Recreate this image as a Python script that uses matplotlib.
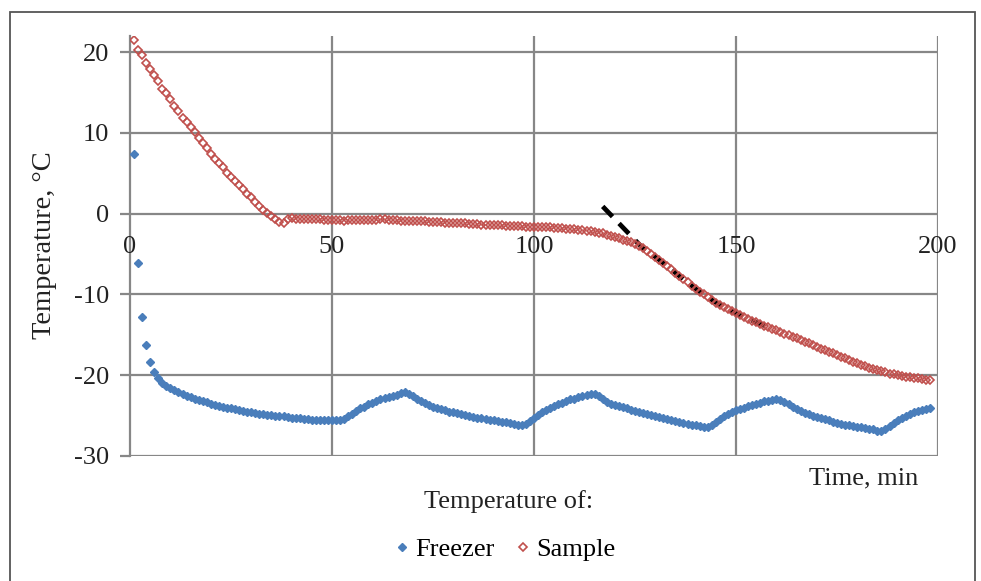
import numpy as np
import matplotlib
matplotlib.use("Agg")
import matplotlib.pyplot as plt
from matplotlib.patches import Rectangle

# time in minutes, one reading per minute
time_min = list(range(1, 199))

freezer_temp = [
    7.4, -6.1, -12.8, -16.3, -18.3, -19.6, -20.3, -20.9, -21.3, -21.6,
    -21.85, -22.1, -22.35, -22.55, -22.75, -22.9, -23.05, -23.2, -23.35, -23.5,
    -23.65, -23.75, -23.9, -24.0, -24.1, -24.2, -24.3, -24.4, -24.5, -24.6,
    -24.65, -24.75, -24.85, -24.9, -24.95, -25.0, -25.05, -25.1, -25.2, -25.25,
    -25.3, -25.35, -25.4, -25.45, -25.5, -25.55, -25.6, -25.6, -25.6, -25.6,
    -25.6, -25.55, -25.4, -25.1, -24.8, -24.4, -24.1, -23.9, -23.6, -23.4,
    -23.2, -23.0, -22.85, -22.7, -22.55, -22.4, -22.25, -22.1, -22.3, -22.6,
    -22.9, -23.2, -23.45, -23.7, -23.9, -24.05, -24.2, -24.35, -24.5, -24.6,
    -24.7, -24.85, -24.95, -25.05, -25.15, -25.25, -25.35, -25.45, -25.5, -25.6,
    -25.65, -25.75, -25.85, -25.95, -26.0, -26.1, -26.15, -26.0, -25.7, -25.3,
    -24.9, -24.6, -24.3, -24.05, -23.8, -23.6, -23.4, -23.2, -23.0, -22.9,
    -22.75, -22.6, -22.45, -22.3, -22.35, -22.6, -23.0, -23.3, -23.5, -23.65,
    -23.8, -23.95, -24.1, -24.25, -24.4, -24.5, -24.65, -24.8, -24.9, -25.05,
    -25.15, -25.3, -25.45, -25.55, -25.7, -25.8, -25.9, -26.0, -26.1, -26.2,
    -26.25, -26.35, -26.4, -26.2, -25.8, -25.4, -25.1, -24.8, -24.5, -24.3,
    -24.15, -24.0, -23.85, -23.7, -23.55, -23.4, -23.25, -23.15, -23.05, -23.0,
    -23.1, -23.3, -23.6, -23.9, -24.2, -24.45, -24.65, -24.85, -25.0, -25.2,
    -25.35, -25.45, -25.6, -25.75, -25.9, -26.0, -26.1, -26.2, -26.3, -26.4,
    -26.45, -26.5, -26.6, -26.7, -26.85, -26.9, -26.7, -26.3, -25.9, -25.6,
    -25.3, -25.0, -24.8, -24.6, -24.45, -24.3, -24.15, -24.0,
]

sample_temp = [
    21.5, 20.3, 19.6, 18.7, 17.9, 17.2, 16.4, 15.5, 15.0, 14.2,
    13.3, 12.7, 11.9, 11.4, 10.7, 10.1, 9.4, 8.7, 8.1, 7.4,
    6.8, 6.3, 5.8, 5.1, 4.6, 4.1, 3.5, 3.0, 2.5, 2.1,
    1.4, 1.0, 0.5, 0.1, -0.3, -0.6, -1.0, -1.2, -0.6, -0.55,
    -0.6, -0.6, -0.65, -0.6, -0.65, -0.7, -0.7, -0.75, -0.75, -0.8,
    -0.8, -0.8, -0.85, -0.8, -0.8, -0.8, -0.75, -0.75, -0.75, -0.75,
    -0.75, -0.7, -0.7, -0.75, -0.8, -0.8, -0.85, -0.85, -0.9, -0.9,
    -0.9, -0.95, -0.95, -1.0, -1.0, -1.05, -1.05, -1.1, -1.1, -1.15,
    -1.15, -1.2, -1.2, -1.25, -1.3, -1.3, -1.35, -1.35, -1.4, -1.4,
    -1.45, -1.45, -1.5, -1.5, -1.5, -1.55, -1.55, -1.6, -1.6, -1.6,
    -1.6, -1.65, -1.65, -1.7, -1.75, -1.75, -1.8, -1.85, -1.9, -1.95,
    -2.0, -2.05, -2.1, -2.15, -2.25, -2.35, -2.45, -2.6, -2.7, -2.85,
    -3.0, -3.2, -3.35, -3.55, -3.8, -4.05, -4.3, -4.6, -4.95, -5.3,
    -5.7, -6.1, -6.5, -6.9, -7.3, -7.7, -8.1, -8.5, -8.9, -9.3,
    -9.65, -10.0, -10.35, -10.7, -11.0, -11.3, -11.6, -11.85, -12.1, -12.35,
    -12.6, -12.8, -13.05, -13.25, -13.45, -13.65, -13.85, -14.05, -14.25, -14.45,
    -14.65, -14.85, -15.05, -15.25, -15.45, -15.65, -15.85, -16.05, -16.25, -16.45,
    -16.7, -16.9, -17.1, -17.3, -17.5, -17.7, -17.9, -18.1, -18.3, -18.5,
    -18.7, -18.85, -19.05, -19.2, -19.35, -19.5, -19.65, -19.8, -19.9, -20.0,
    -20.1, -20.2, -20.25, -20.35, -20.4, -20.5, -20.55, -20.65,
]

# dashed black fit over the cooling stage
fit_time = [117, 127, 130, 135, 140, 145, 150, 155, 159]
fit_temp = [0.9, -4.3, -5.3, -7.3, -9.3, -11.0, -12.35, -13.45, -14.25]

x_ticks = [0, 50, 100, 150, 200]
y_ticks = [-30, -20, -10, 0, 10, 20]

plt.rcParams['font.family'] = ['Liberation Serif', 'DejaVu Serif']
txt_col = '#222222'
fs = 19

W, H = 981, 581
fig = plt.figure(figsize=(W / 100, H / 100), dpi=100)
ax = fig.add_axes([130 / W, 1 - 456 / H, 808 / W, 420 / H])

grid_col = '#878787'
ax.set_xlim(0, 200)
ax.set_ylim(-30, 22)
for xv in x_ticks[1:]:
    ax.axvline(xv, color=grid_col, lw=1.6, zorder=1)
for yv in y_ticks:
    ax.axhline(yv, color=grid_col, lw=1.6, zorder=1)

for side in ['top', 'right', 'bottom']:
    ax.spines[side].set_visible(False)
ax.spines['left'].set_color(grid_col)
ax.spines['left'].set_linewidth(1.6)

ax.plot(fit_time, fit_temp, color='black', lw=3.4, ls=(0, (3, 2)), zorder=2)
ax.plot(time_min, freezer_temp, ls='none', marker='D', ms=4.3,
        color='#4A7EBB', mec='#4A7EBB', label='Freezer', zorder=3)
ax.plot(time_min, sample_temp, ls='none', marker='D', ms=4.4, mew=1.2,
        mfc='none', mec='#C0504D', label='Sample', zorder=4)

ax.set_yticks(y_ticks)
ax.set_yticklabels([str(v) for v in y_ticks], fontsize=fs, color=txt_col)
ax.tick_params(axis='y', length=7, width=1.6, color=grid_col, pad=8)
ax.set_xticks([])
for xv in x_ticks:
    ax.text(xv, -2.8, str(xv), ha='center', va='top', fontsize=fs, color=txt_col)

fig.text(45 / W, 1 - 245 / H, 'Temperature, °C', rotation=90, ha='center',
         va='center', fontsize=20.5, color=txt_col)
fig.text(864 / W, 1 - 478 / H, 'Time, min', ha='center', va='center',
         fontsize=fs, color=txt_col)
fig.text(509 / W, 1 - 502 / H, 'Temperature of:', ha='center', va='center',
         fontsize=fs, color=txt_col)

handles, labels = ax.get_legend_handles_labels()
fig.legend(handles, labels, loc='center', bbox_to_anchor=(504 / W, 1 - 549 / H),
           ncol=2, frameon=False, fontsize=fs, handletextpad=0.15,
           columnspacing=0.75, handlelength=0.7, markerscale=0.85)

fig.patches.append(Rectangle((10 / W, -0.05), 965 / W, 1.05 - 12 / H,
                             transform=fig.transFigure, fill=False,
                             edgecolor='#555555', lw=1.3))

fig.savefig('out.png', dpi=100)
